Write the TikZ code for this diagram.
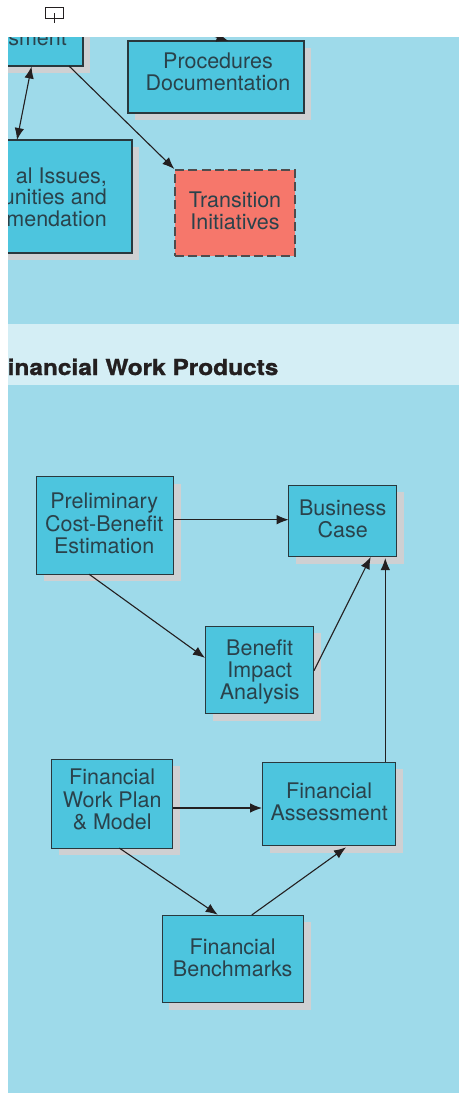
\documentclass[tikz,border=0pt]{standalone}
\usepackage{fontspec}
\setmainfont{TeX Gyre Heros}
\newfontfamily\headfont[FakeBold=1.2,FakeStretch=1.11]{TeX Gyre Heros Bold}
\usetikzlibrary{arrows.meta,calc}
\definecolor{panel}{HTML}{9EDAEA}
\definecolor{band}{HTML}{D4EEF5}
\definecolor{boxfill}{HTML}{4DC5DE}
\definecolor{dropgrey}{HTML}{CFD0D2}
\definecolor{redfill}{HTML}{F6776B}
\definecolor{ink}{HTML}{231F20}
\definecolor{label}{HTML}{2A424B}
\newcommand\placed[3]{\hspace*{#1}\raisebox{\dimexpr#2-5.4pt\relax}[0pt][0pt]{\begin{tabular}[c]{@{}c@{}}#3\end{tabular}}}
\tikzset{
  boxshape/.style={rectangle,inner sep=0pt,outer sep=0pt,text=label,
    font=\fontsize{21.5}{21.5}\selectfont},
  work/.style={boxshape,draw=ink!85!boxfill,fill=boxfill,line width=1.1pt},
  redwork/.style={boxshape,draw=ink!80,fill=redfill,line width=1.4pt,dash pattern=on 9pt off 4.2pt},
  conn/.style={draw=ink,line width=1.1pt,-{Latex[length=12pt,width=9.5pt]}},
  conn2/.style={draw=ink,line width=1.1pt,{Latex[length=12pt,width=9.5pt]}-{Latex[length=12pt,width=9.5pt]}},
  cut/.style={font=\fontsize{21.5}{21.5}\selectfont,text=label,inner sep=0pt,align=right},
}
\begin{document}
\begin{tikzpicture}[x=1pt,y=-1pt]
\useasboundingbox (0,0) rectangle (459,1093);
% glyph at the top
\node[draw=ink,line width=1pt,fill=white,inner sep=0pt,minimum width=18.5pt,minimum height=11pt] (glyph) at (54.5,12.5) {};
\coordinate (glyphend) at (54.5,23);
\coordinate (glyphtop) at (54.5,13);
\draw[ink,line width=.9pt] (glyphtop) -- (glyphend);
\begin{scope}
\clip (8,37) rectangle (459,1093);
\fill[panel] (8,37) rectangle (459,1093);
\fill[band] (8,324) rectangle (459,385);
\node[anchor=base west,inner sep=0pt,text=ink,font=\fontsize{22}{24}\headfont] (head) at (7.5,375) {inancial Work Products};
% shadows
\foreach \a/\b/\c/\d in {0/0/90/73,135/48/311/120,0/147/139/260,44/484/181/581,296/492/404/564,213/633/321/721,59/766/180/855,270/769/403/853,169/922/311/1010}
  \fill[dropgrey] (\a,\b) rectangle (\c,\d);
% nodes
\node[work,minimum width=83pt,minimum height=76pt,anchor=south east] (assess) at (83,66) {};
\node[cut,anchor=base east] (assesstext) at (67,45) {ssment};
\node[work,minimum width=176pt,minimum height=72pt] (proc) at (216,77) {\placed{4pt}{2pt}{Procedures\\Documentation}};
\node[work,minimum width=132pt,minimum height=113pt,anchor=south east] (issues) at (132,253) {};
\node[cut,anchor=east] (issuestext) at (107,197) {al Issues,\hspace{17pt}\\unities and\\mendation};
\node[redwork,minimum width=120pt,minimum height=86pt] (trans) at (235,213) {\placed{0pt}{-0.5pt}{Transition\\Initiatives}};
\node[work,minimum width=137pt,minimum height=97.5pt] (prelim) at (105.2,525.4) {\placed{-2pt}{-1pt}{Preliminary\\Cost-Benefit\\Estimation}};
\node[work,minimum width=108pt,minimum height=71.7pt] (biz) at (342.7,520.9) {\placed{0pt}{-1pt}{Business\\Case}};
\node[work,minimum width=108pt,minimum height=87.7pt] (benefit) at (259.7,669.9) {\placed{0pt}{-2.5pt}{Benefit\\Impact\\Analysis}};
\node[work,minimum width=121pt,minimum height=88.7pt] (plan) at (112.2,803.7) {\placed{0pt}{1.5pt}{Financial\\Work Plan\\\& Model}};
\node[work,minimum width=133pt,minimum height=83.7pt] (fa) at (329.2,803.9) {\placed{0pt}{-0.5pt}{Financial\\Assessment}};
\node[work,minimum width=141.3pt,minimum height=87.4pt] (bench) at (232.7,959) {\placed{0pt}{-2pt}{Financial\\Benchmarks}};
% connector running in from above the crop
\coordinate (above) at (195,30);
\draw[conn] (above) -- ($(proc.north west)+(100.5,0)$);
% connectors
\draw[conn2] ($(assess.south east)+(-51.5,0.5)$) -- ($(issues.north east)+(-115,0)$);
\draw[conn] ($(assess.south east)+(-14,0)$) -- ($(trans.north west)+(-0.7,-1)$);
\draw[conn] ($(prelim.east)+(0,-5.7)$) -- ($(biz.west)+(0,-1.2)$);
\draw[conn] ($(prelim.south west)+(52.3,0)$) -- ($(benefit.west)+(-0.7,-12)$);
\draw[conn] ($(benefit.east)+(0.3,0.8)$) -- ($(biz.south west)+(82,0.3)$);
\draw[conn] ($(fa.north east)+(-10.4,0)$) -- ($(biz.south east)+(-11.4,1.3)$);
\draw[conn] ($(plan.east)+(0,4.3)$) -- ($(fa.west)+(-0.7,4.1)$);
\draw[conn] ($(plan.south west)+(67.6,0)$) -- ($(bench.north west)+(55.7,-0.6)$);
\draw[conn] ($(bench.north west)+(89.7,-0.3)$) -- ($(fa.south west)+(83.3,1.6)$);
\end{scope}
\end{tikzpicture}
\end{document}
